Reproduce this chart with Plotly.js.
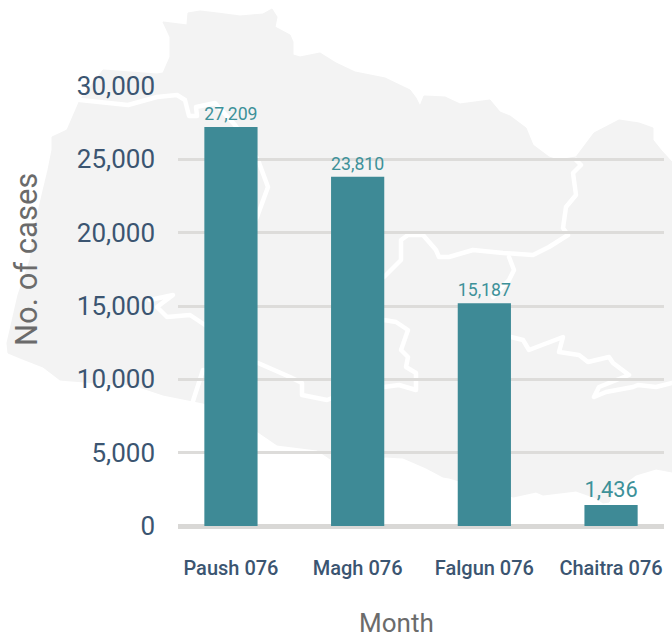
<!DOCTYPE html>
<html>
<head>
<meta charset="utf-8">
<script src="https://cdn.plot.ly/plotly-3.0.1.min.js"></script>
<style>html,body{margin:0;padding:0;background:#fff}#c{width:672px;height:637px}</style>
</head>
<body>
<div id="c"></div>
<script>
const months = ['Paush 076', 'Magh 076', 'Falgun 076', 'Chaitra 076'];
const cases = [27209, 23810, 15187, 1436];
const yTicks = [0, 5000, 10000, 15000, 20000, 25000, 30000];

// Decorative backdrop map of Nepal (page pixels)
const mapOutline = 'M163,22 L187,25 188,13 200,11 217,13 240,16 263,14 272,9 277,17 275,27 290,35 293,42 293,55 300,57 320,53 336,63 355,72 385,78 410,90 416,98 420,106 424,96 445,97 460,104 475,102 490,100 500,112 510,116 526,128 533,145 549,157 558,160 576,157 594,133 619,120 639,123 653,128 653,140 661,150 672,162 L672,472 656,469 636,475 613,492 609,502 603,503 596,498 576,491 543,495 536,492 513,497 449,478 443,477 426,468 403,458 386,457 336,463 317,450 277,445 258,432 203,403 163,395 133,385 97,383 60,380 43,367 20,358 8,353 7,343 10,330 18,295 30,260 35,225 42,195 48,170 50,160 52,150 52,137 67,130 80,100 103,70 157,74 163,73 170,57 170,37 Z';
const mapBorders = [
  'M80,100 L128,105 157,97 177,95 185,100 189,116 197,116 196,107 215,103 235,125 258,160 268,187 257,217 240,250',
  'M384,277 L401,260 401,240 408,235 423,235 436,250 439,257 449,257 473,250 503,253 533,255 549,247 568,235 563,228 566,207 576,195 573,173 581,165 576,160',
  'M509,257 L514,270 509,280 493,297',
  'M511,337 L523,340 529,350 563,337 559,352 579,355 588,362 609,357 613,363 629,375 599,387 594,397 606,392 633,387 638,385 656,387 672,383',
  'M384,320 L396,322 408,330 401,350 408,357 406,367 416,373 416,390 399,385 384,387 340,395 327,400 302,395 302,383 290,377 258,363',
  'M150,300 L173,295 157,307 167,317 190,315 205,325 230,330',
  'M203,370 L193,401'
];
const mapSvg = '<svg xmlns="http://www.w3.org/2000/svg" width="672" height="637" viewBox="0 0 672 637">' +
  '<path d="' + mapOutline + '" fill="#f3f3f3" stroke="#f3f3f3" stroke-width="1" stroke-linejoin="round"/>' +
  mapBorders.map(d => '<path d="' + d + '" fill="none" stroke="#ffffff" stroke-width="4.5" stroke-linejoin="round" stroke-linecap="round"/>').join('') +
  '</svg>';

const W = 672, H = 637, L = 178, R = 8, T = 86, B = 111;
const pw = W - L - R, ph = H - T - B;
const pageX = px => (px - L) / pw;
const pageY = py => (H - B - py) / ph;

const font = 'Roboto, sans-serif';
Plotly.newPlot('c', [{
  type: 'bar',
  x: months,
  y: cases,
  width: 0.42,
  marker: {color: '#3e8a96', line: {width: 0}},
  texttemplate: '%{y:,d}',
  textposition: 'outside',
  textangle: 0,
  cliponaxis: false,
  textfont: {family: font, size: 26, color: '#3d9199'},
  hoverinfo: 'x+y'
}], {
  width: W, height: H,
  margin: {l: L, r: R, t: T, b: B, pad: 0},
  paper_bgcolor: 'rgba(0,0,0,0)',
  plot_bgcolor: 'rgba(0,0,0,0)',
  showlegend: false,
  xaxis: {
    type: 'category',
    range: [-0.418, 3.418],
    showgrid: false, showline: false, ticks: '',
    tickfont: {family: font, size: 20, color: '#3b5571', weight: 500},
    tickangle: 0,
    automargin: false,
    ticklabelstandoff: 28
  },
  yaxis: {
    range: [0, 30000],
    tickvals: yTicks,
    tickformat: ',d',
    showgrid: true, gridcolor: '#dddcda', gridwidth: 3,
    zeroline: true, zerolinecolor: '#d9d8d6', zerolinewidth: 5,
    showline: false, ticks: '',
    tickfont: {family: font, size: 26, color: '#3b5571'},
    automargin: false,
    ticklabelstandoff: 22
  },
  annotations: [
    {text: 'No. of cases', xref: 'paper', yref: 'paper', x: pageX(26), y: pageY(260), xanchor: 'center', yanchor: 'middle', textangle: -90, showarrow: false, font: {family: font, size: 31, color: '#6b6b6b'}},
    {text: 'Month', xref: 'paper', yref: 'paper', x: pageX(396), y: pageY(623), xanchor: 'center', yanchor: 'middle', showarrow: false, font: {family: font, size: 26, color: '#6b6b6b'}}
  ],
  images: [{
    source: 'data:image/svg+xml;charset=utf-8,' + encodeURIComponent(mapSvg),
    xref: 'paper', yref: 'paper',
    x: pageX(0), y: pageY(0),
    sizex: W / pw, sizey: H / ph,
    xanchor: 'left', yanchor: 'top',
    sizing: 'stretch', layer: 'below'
  }]
}, {displayModeBar: false, staticPlot: true});
</script>
</body>
</html>
